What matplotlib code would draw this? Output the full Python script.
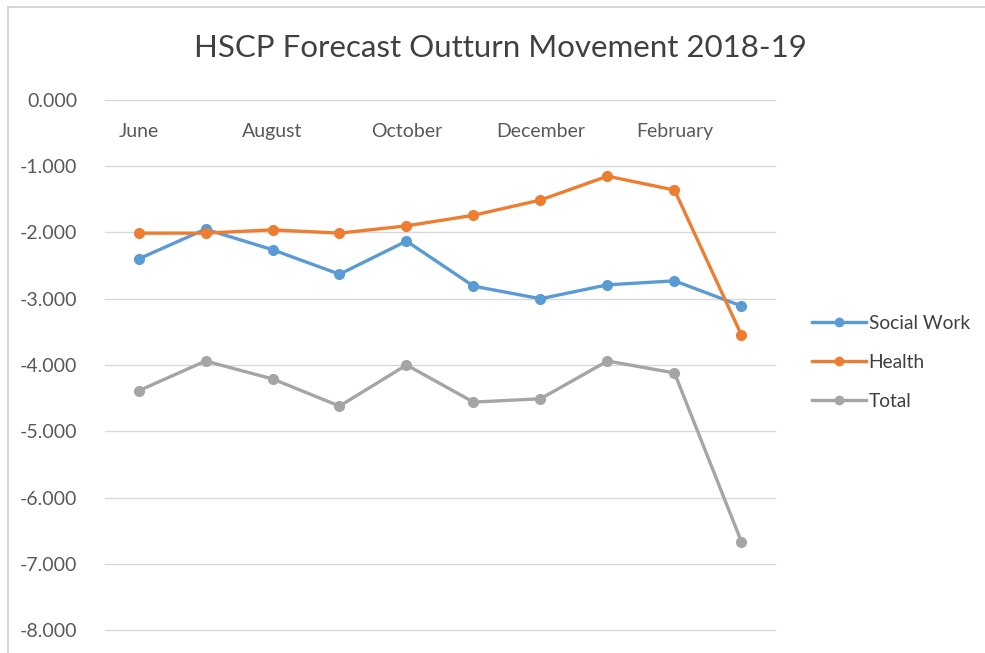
"""
HSCP forecast outturn movement, line chart
"""

import matplotlib
matplotlib.use('Agg')
import matplotlib.pyplot as plt
from matplotlib.lines import Line2D

months = ['June', 'July', 'August', 'September', 'October', 'November',
          'December', 'January', 'February', 'March']
shown = ['June', 'August', 'October', 'December', 'February']

social_work = [-2.40, -1.95, -2.26, -2.63, -2.13, -2.81, -3.00, -2.79, -2.73, -3.11]
health = [-2.01, -2.01, -1.96, -2.01, -1.90, -1.74, -1.51, -1.15, -1.36, -3.55]
total = [-4.39, -3.94, -4.21, -4.62, -4.00, -4.56, -4.51, -3.94, -4.12, -6.67]

yticks = [0, -1, -2, -3, -4, -5, -6, -7, -8]

plt.rcParams['font.family'] = ['Lato', 'DejaVu Sans']

fig = plt.figure(figsize=(9.85, 6.53), dpi=100)
ax = fig.add_axes([0.1066, 0.0352, 0.6802, 0.8117])

series = [('Social Work', social_work, '#5b9bd5'),
          ('Health', health, '#ed7d31'),
          ('Total', total, '#a5a5a5')]
x = list(range(len(months)))
for name, vals, col in series:
    ax.plot(x, vals, color=col, lw=2.4, marker='o', ms=7, label=name,
            solid_joinstyle='round')

ax.set_xlim(-0.5, len(months) - 0.5)
ax.set_ylim(-8, 0)
ax.set_yticks(yticks)
ax.set_yticklabels(['%.3f' % v for v in yticks], fontsize=14, color='#595959')
ax.tick_params(axis='y', length=0, pad=20)
ax.grid(axis='y', color='#d9d9d9', lw=1)
for g in ax.get_ygridlines():
    g.set_clip_on(False)
ax.set_axisbelow(True)
for s in ax.spines.values():
    s.set_visible(False)

# category labels sit just under the zero line, every second month
ax.set_xticks([])
for i, m in enumerate(months):
    if m in shown:
        ax.text(i, -0.47, m, ha='center', va='center', fontsize=14,
                color='#595959')

fig.text(0.508, 1 - 48 / 653, 'HSCP Forecast Outturn Movement 2018-19',
         fontsize=22.5, color='#404040', ha='center', va='center')

handles = [Line2D([0], [0], color=c, lw=2.4, marker='o', ms=6) for _, _, c in series]
leg = fig.legend(handles, [s[0] for s in series], loc='center left',
                 bbox_to_anchor=(0.807, 0.445), frameon=False, fontsize=13.8,
                 handlelength=2.8, handletextpad=0.15, labelspacing=1.15)
for t in leg.get_texts():
    t.set_color('#404040')

# outer frame of the pasted chart
fig.add_artist(Line2D([8 / 985, 8 / 985], [0, 1 - 7 / 653], color='#d0d0d0', lw=1.2))
fig.add_artist(Line2D([8 / 985, 1], [1 - 7 / 653, 1 - 7 / 653], color='#d0d0d0', lw=1.2))

fig.savefig('out.png', dpi=100)
